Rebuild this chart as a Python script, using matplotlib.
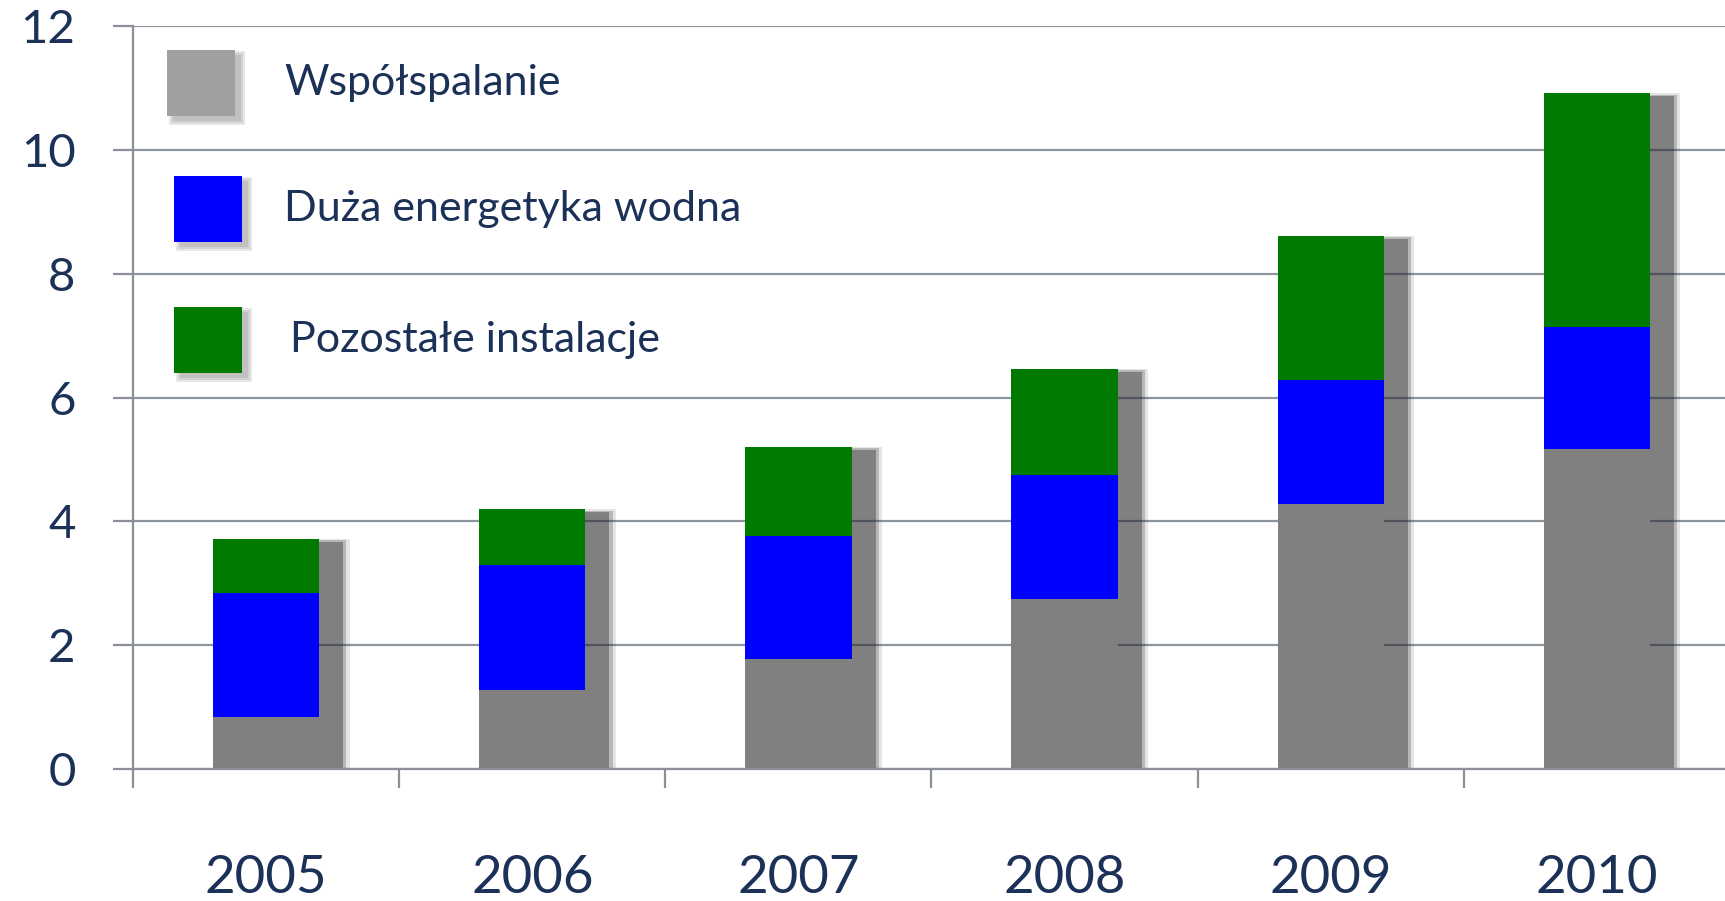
import numpy as np
import matplotlib.pyplot as plt
from matplotlib.patches import Rectangle

# data
years = ["2005", "2006", "2007", "2008", "2009", "2010"]
wspolspalanie = [0.84, 1.28, 1.78, 2.74, 4.28, 5.17]
duza_wodna = [2.00, 2.01, 1.99, 2.01, 2.00, 1.98]
pozostale = [0.88, 0.91, 1.44, 1.72, 2.34, 3.77]
series_names = ["Współspalanie", "Duża energetyka wodna", "Pozostałe instalacje"]

c_gray = "#808080"
c_blue = "#0000FF"
c_green = "#007A00"
c_text = "#1B3157"

plt.rcParams['font.family'] = ['Lato', 'DejaVu Sans']

fig = plt.figure(figsize=(17.25, 9.01), dpi=100)
ax = fig.add_axes([133 / 1725, 132 / 901, (1730 - 133) / 1725, (769 - 26.4) / 901])

x = np.arange(len(years))
w = 0.40
bottom2 = np.array(wspolspalanie) + np.array(duza_wodna)
total = bottom2 + np.array(pozostale)

# drop shadow: solid core plus two soft fringes
ax.bar(x + 0.09, total - 0.05, width=w, color=c_gray, zorder=0.3, linewidth=0)
for spread, a in [(0.012, 0.45), (0.024, 0.2)]:
    ax.bar(x + 0.09, total - 0.05 + spread * 2, width=w + spread * 2,
           color=c_gray, alpha=a, zorder=0.2, linewidth=0)

ax.bar(x, wspolspalanie, width=w, color=c_gray, zorder=2, linewidth=0)
ax.bar(x, duza_wodna, width=w, bottom=wspolspalanie, color=c_blue, zorder=2, linewidth=0)
ax.bar(x, pozostale, width=w, bottom=bottom2, color=c_green, zorder=2, linewidth=0)

ax.set_xlim(-0.5, 5.5)
ax.set_ylim(0, 12)
ax.set_yticks(range(0, 13, 2))
ax.set_xticks(x)
ax.set_xticklabels(years)
ax.set_xticks(np.arange(-0.5, 5.5, 1), minor=True)

ax.set_axisbelow(True)
ax.yaxis.grid(True, color="#1F2A3C", alpha=0.5, linewidth=1.6)
for s in ["top", "right"]:
    ax.spines[s].set_visible(False)
for s in ["left", "bottom"]:
    ax.spines[s].set_color("#8A8F99")
    ax.spines[s].set_linewidth(1.6)

ax.tick_params(axis="y", length=14.4, width=1.6, color="#8A8F99", pad=27,
               labelsize=34, labelcolor=c_text)
ax.tick_params(axis="x", which="major", length=0, pad=62, labelsize=38,
               labelcolor=c_text)
ax.tick_params(axis="x", which="minor", length=13.5, width=1.6, color="#8A8F99")

# legend drawn by hand: swatch with a small shadow, then the label
fw, fh = 1725, 901
legend_colors = ["#A0A0A0", c_blue, c_green]
row_y = [83, 209, 340]        # swatch centre, px from top of figure
sw_x = [167, 174, 174]
text_x = [284, 284, 290]
for name, col, ry, sx, tx in zip(series_names, legend_colors, row_y, sw_x, text_x):
    for k in range(3):
        d = 2 * k
        fig.patches.append(Rectangle(((sx + 6 - d) / fw, (fh - ry - 33 - 5 - d) / fh),
                                     (68 + 2 * d) / fw, (66 + 2 * d) / fh,
                                     transform=fig.transFigure, color="#606060",
                                     alpha=0.15, zorder=3, linewidth=0))
    fig.patches.append(Rectangle((sx / fw, (fh - ry - 33) / fh), 68 / fw, 66 / fh,
                                 transform=fig.transFigure, color=col, zorder=4,
                                 linewidth=0))
    fig.text(tx / fw, (fh - ry) / fh, name, fontsize=31, color=c_text,
             va="center", ha="left", zorder=5)

fig.savefig("out.png", dpi=100)
